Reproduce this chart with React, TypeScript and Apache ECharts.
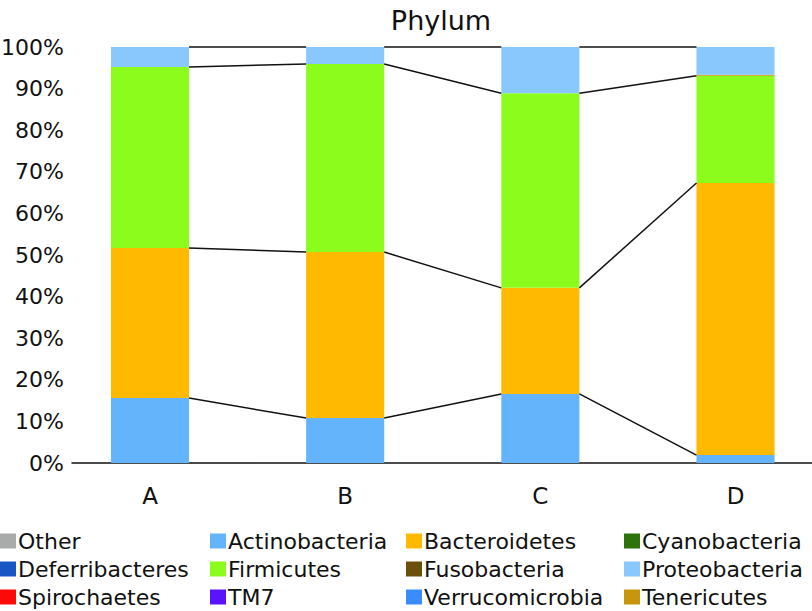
import React, { useEffect, useRef } from "react";
import * as echarts from "echarts";

const categories = ["A", "B", "C", "D"];
const colors: Record<string, string> = {
  Other: "#a9abab",
  Actinobacteria: "#64b4fc",
  Bacteroidetes: "#ffba00",
  Cyanobacteria: "#2e720c",
  Deferribacteres: "#1a55c4",
  Firmicutes: "#8cfc1c",
  Fusobacteria: "#6b500c",
  Proteobacteria: "#88c8fc",
  Spirochaetes: "#fc0a0a",
  TM7: "#5a14fc",
  Verrucomicrobia: "#3a8cfc",
  Tenericutes: "#c8960c",
};
// percentages per sample (A, B, C, D)
const values: Record<string, number[]> = {
  Other: [0, 0, 0, 0],
  Actinobacteria: [15.6, 10.8, 16.6, 1.9],
  Bacteroidetes: [36.1, 39.9, 25.5, 65.4],
  Cyanobacteria: [0, 0, 0, 0],
  Deferribacteres: [0, 0, 0, 0],
  Firmicutes: [43.5, 45.2, 46.8, 25.8],
  Fusobacteria: [0, 0, 0, 0],
  Proteobacteria: [4.8, 4.1, 11.1, 6.7],
  Spirochaetes: [0, 0, 0, 0],
  TM7: [0, 0, 0, 0],
  Verrucomicrobia: [0, 0, 0, 0],
  Tenericutes: [0, 0, 0, 0.2],
};
const stackOrder = [
  "Other", "Actinobacteria", "Bacteroidetes", "Cyanobacteria",
  "Deferribacteres", "Firmicutes", "Fusobacteria", "Spirochaetes",
  "TM7", "Verrucomicrobia", "Tenericutes", "Proteobacteria",
];
const legendColumns = [
  ["Other", "Deferribacteres", "Spirochaetes"],
  ["Actinobacteria", "Firmicutes", "TM7"],
  ["Bacteroidetes", "Fusobacteria", "Verrucomicrobia"],
  ["Cyanobacteria", "Proteobacteria", "Tenericutes"],
];
const legendX = [0, 210, 406, 624];
const FONT = "DejaVu Sans";

export default function App() {
  const ref = useRef<HTMLDivElement>(null);
  useEffect(() => {
    const chart = echarts.init(ref.current!, null, { renderer: "svg" });

    const boundaries = ["Actinobacteria", "Bacteroidetes", "Firmicutes", "Proteobacteria"];
    const cum: number[][] = [];
    categories.forEach((_, i) => {
      let s = 0;
      const row: number[] = [];
      stackOrder.forEach((p) => {
        s += values[p][i];
        if (boundaries.includes(p)) row.push(p === "Proteobacteria" ? 100 : s);
      });
      cum.push(row);
    });
    const connData: number[][] = [];
    for (let i = 0; i < categories.length - 1; i++) {
      for (let b = 0; b < boundaries.length; b++) {
        connData.push([i, cum[i][b], cum[i + 1][b]]);
      }
    }

    const barSeries = stackOrder.map((p) => ({
      name: p,
      type: "bar",
      stack: "total",
      barWidth: "40%",
      xAxisIndex: 0,
      yAxisIndex: 0,
      itemStyle: { color: colors[p] },
      data: values[p],
    }));

    const option: any = {
      animation: false,
      title: {
        text: "Phylum",
        left: 436,
        top: 2,
        textAlign: "center",
        textStyle: { fontFamily: FONT, fontSize: 27, fontWeight: "normal", color: "#111" },
      },
      grid: [
        { left: 52.4, top: 47, bottom: 148, width: 780.7, outerBoundsMode: "none", containLabel: false },
        { left: 72, top: 47, bottom: 148, right: 0, outerBoundsMode: "none", containLabel: false },
      ],
      xAxis: [
        {
          type: "category",
          gridIndex: 0,
          data: categories,
          axisLine: { show: false },
          axisTick: { show: false },
          axisLabel: { fontFamily: FONT, fontSize: 23, color: "#111", margin: 21 },
        },
        {
          type: "value",
          gridIndex: 1,
          min: 0,
          max: 1,
          axisLine: { show: true, lineStyle: { color: "#111", width: 1.5 } },
          axisTick: { show: false },
          axisLabel: { show: false },
          splitLine: { show: false },
        },
      ],
      yAxis: [
        {
          type: "value",
          gridIndex: 0,
          min: 0,
          max: 100,
          interval: 10,
          splitLine: { show: false },
          axisLine: { show: false },
          axisTick: { show: false },
          axisLabel: { show: false },
        },
        {
          type: "value",
          gridIndex: 1,
          min: 0,
          max: 100,
          interval: 10,
          splitLine: { show: false },
          axisLine: { show: false },
          axisTick: { show: false },
          axisLabel: {
            formatter: (v: number) => v + "%",
            fontFamily: FONT,
            fontSize: 22,
            color: "#111",
            margin: 8,
          },
        },
      ],
      legend: legendColumns.map((col, k) => ({
        orient: "vertical",
        left: legendX[k],
        top: 530,
        itemWidth: 16,
        itemHeight: 15,
        itemGap: 6,
        icon: "rect",
        padding: 0,
        selectedMode: false,
        data: col,
        textStyle: { fontFamily: FONT, fontSize: 22, color: "#111", padding: [0, 0, 0, -3] },
      })),
      series: [
        ...barSeries,
        {
          type: "custom",
          name: "connectors",
          silent: true,
          z: 5,
          xAxisIndex: 0,
          yAxisIndex: 0,
          data: connData,
          renderItem: (params: any, api: any) => {
            const i = api.value(0);
            const p1 = api.coord([i, api.value(1)]);
            const p2 = api.coord([i + 1, api.value(2)]);
            const half = (api.size([1, 0])[0] * 0.4) / 2;
            return {
              type: "line",
              shape: { x1: p1[0] + half, y1: p1[1], x2: p2[0] - half, y2: p2[1] },
              style: { stroke: "#111", lineWidth: 1.5 },
            };
          },
        },
      ],
    };
    chart.setOption(option);
    return () => chart.dispose();
  }, []);
  return <div ref={ref} style={{ width: 812, height: 611, position: "absolute", left: 0, top: 0 }} />;
}
